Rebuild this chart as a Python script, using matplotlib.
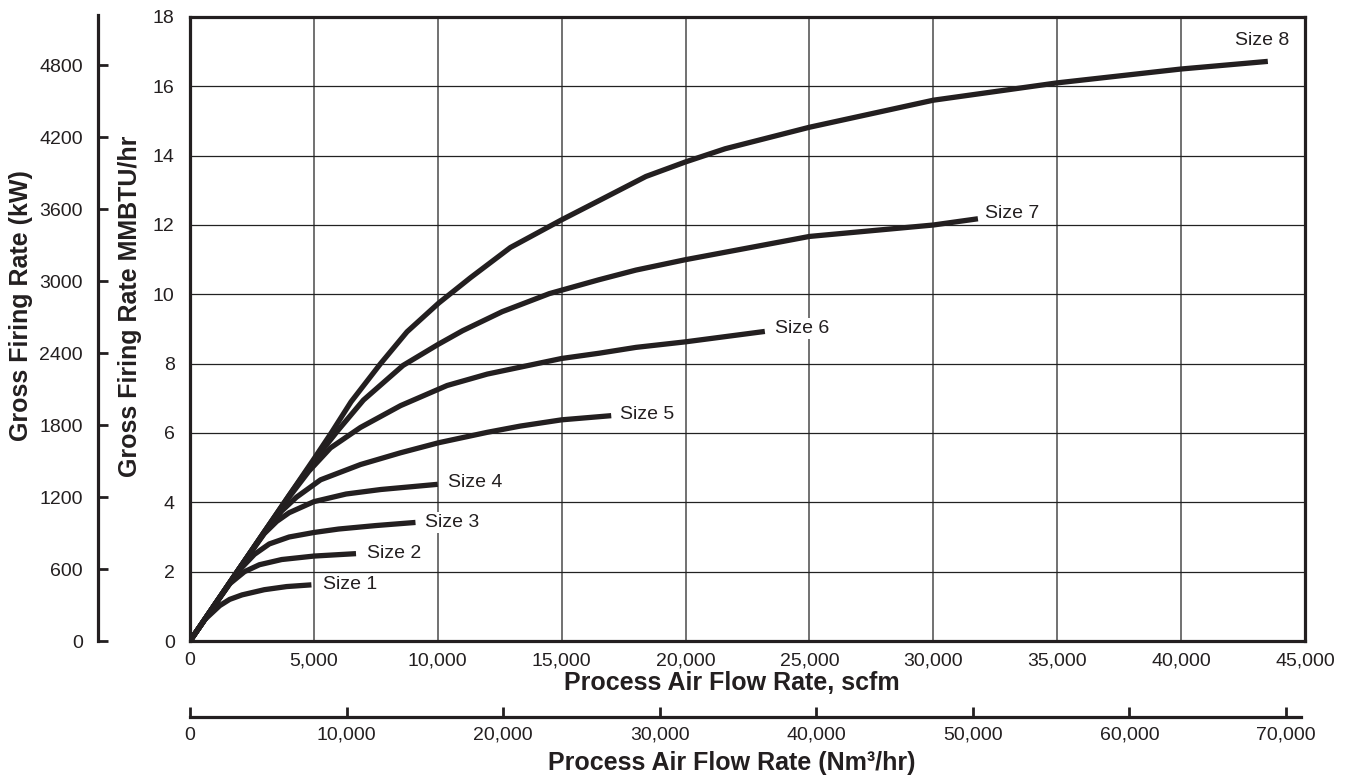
import numpy as np
import matplotlib.pyplot as plt
from matplotlib.ticker import FuncFormatter

plt.rcParams['font.family'] = ['Liberation Sans', 'DejaVu Sans']

# Firing-rate curves, x = process air flow (scfm), y = MMBTU/hr
size1_x = [0, 600, 1200, 1600, 2100, 3000, 3900, 4900]
size1_y = [0, 0.62, 1.02, 1.2, 1.33, 1.48, 1.57, 1.62]

size2_x = [0, 800, 1600, 2200, 2800, 3700, 5000, 6700]
size2_y = [0, 0.83, 1.65, 2.0, 2.2, 2.35, 2.45, 2.52]

size3_x = [0, 1000, 2000, 2600, 3200, 4000, 5000, 6000, 7500, 9100]
size3_y = [0, 1.05, 2.05, 2.5, 2.8, 3.0, 3.13, 3.23, 3.33, 3.42]

size4_x = [0, 1000, 2000, 3000, 3500, 4000, 5000, 6300, 7700, 10000]
size4_y = [0, 1.05, 2.1, 3.1, 3.45, 3.7, 4.02, 4.24, 4.37, 4.52]

size5_x = [0, 1000, 2000, 3000, 3700, 4300, 5270, 6880, 8500, 10040, 12000, 13333, 15000, 17000]
size5_y = [0, 1.05, 2.1, 3.12, 3.75, 4.15, 4.65, 5.09, 5.43, 5.72, 6.02, 6.2, 6.38, 6.5]

size6_x = [0, 1000, 2000, 3000, 4000, 4800, 5670, 6880, 8500, 10376, 12000, 13333, 15000, 16500, 18000, 20000, 23200]
size6_y = [0, 1.05, 2.1, 3.15, 4.15, 4.9, 5.57, 6.16, 6.79, 7.37, 7.7, 7.9, 8.15, 8.3, 8.47, 8.63, 8.93]

size7_x = [0, 1000, 2000, 3000, 4000, 5000, 6000, 7000, 8600, 10000, 11000, 12600, 14500, 16500, 18000, 20000, 25000, 30000, 31800]
size7_y = [0, 1.05, 2.1, 3.15, 4.2, 5.2, 6.1, 6.95, 7.95, 8.55, 8.95, 9.5, 10.02, 10.42, 10.7, 11.0, 11.67, 12.0, 12.18]

size8_x = [0, 1000, 2000, 3000, 4000, 5000, 5700, 6500, 7690, 8760, 10040, 11320, 12930, 15000, 16500,
           18400, 20000, 21600, 25000, 30000, 35000, 40000, 43500]
size8_y = [0, 1.05, 2.1, 3.15, 4.2, 5.25, 6.0, 6.9, 8.0, 8.92, 9.75, 10.48, 11.35, 12.15, 12.7,
           13.4, 13.82, 14.2, 14.82, 15.6, 16.1, 16.5, 16.72]

curves = [
    ('Size 1', size1_x, size1_y, (8, 0)),
    ('Size 2', size2_x, size2_y, (8, 0)),
    ('Size 3', size3_x, size3_y, (7, 0)),
    ('Size 4', size4_x, size4_y, (7, 1)),
    ('Size 5', size5_x, size5_y, (6, 1)),
    ('Size 6', size6_x, size6_y, (7, 2)),
    ('Size 7', size7_x, size7_y, (5, 4)),
]

W, H = 1345, 780
fig = plt.figure(figsize=(W / 100, H / 100), dpi=100)
ink = '#231f20'

# main chart (scfm vs MMBTU/hr)
ax = fig.add_axes([190 / W, 1 - 641 / H, (1305 - 190) / W, (641 - 17) / H])
ax.set_xlim(0, 45000)
ax.set_ylim(0, 18)
ax.set_xticks(np.arange(0, 45001, 5000))
ax.set_yticks(np.arange(0, 19, 2))
ax.xaxis.set_major_formatter(FuncFormatter(lambda v, p: f'{int(v):,}'))
ax.tick_params(length=0, labelsize=14, colors=ink)
ax.tick_params(axis='x', pad=8)
ax.tick_params(axis='y', pad=11)
ax.grid(axis='x', color='#666666', lw=1.3)
ax.grid(axis='y', color='#222222', lw=0.9)
for s in ax.spines.values():
    s.set_linewidth(2.3)
    s.set_color(ink)

for name, xs, ys, off in curves:
    ax.plot(xs, ys, color=ink, lw=3.8, solid_capstyle='butt', zorder=3)
    ax.annotate(name, (xs[-1], ys[-1]), xytext=off, textcoords='offset points',
                ha='left', va='center', fontsize=14, color=ink, zorder=4,
                bbox=dict(boxstyle='square,pad=0.1', fc='white', ec='none'))

ax.plot(size8_x, size8_y, color=ink, lw=3.8, solid_capstyle='butt', zorder=3)
ax.annotate('Size 8', (size8_x[-1], size8_y[-1]), xytext=(-4, 15), textcoords='offset points',
            ha='center', va='center', fontsize=14, color=ink, zorder=4)

# kW scale on the far left
axk = fig.add_axes([98 / W, 1 - 641 / H, 0.0005, (641 - 15) / H])
axk.set_ylim(0, 5200 * 626 / 624)
axk.set_yticks(np.arange(0, 4801, 600))
axk.set_xticks([])
axk.patch.set_visible(False)
for k in ['top', 'right', 'bottom']:
    axk.spines[k].set_visible(False)
axk.spines['left'].set_linewidth(2.3)
axk.spines['left'].set_color(ink)
axk.tick_params(axis='y', direction='in', length=7, width=2, labelsize=14, pad=11, colors=ink)

# Nm3/hr scale underneath
axn = fig.add_axes([190 / W, 1 - 717 / H, (1301 - 190) / W, 0.0005])
axn.set_xlim(0, 70958)
axn.set_xticks(np.arange(0, 70001, 10000))
axn.xaxis.set_major_formatter(FuncFormatter(lambda v, p: f'{int(v):,}'))
axn.set_yticks([])
axn.patch.set_visible(False)
for k in ['top', 'right', 'left']:
    axn.spines[k].set_visible(False)
axn.spines['bottom'].set_linewidth(2.3)
axn.spines['bottom'].set_color(ink)
axn.tick_params(axis='x', direction='in', length=7, width=2, labelsize=14, pad=7, colors=ink)

lab = dict(fontsize=18, fontweight='bold', color=ink)
fig.text(732 / W, 1 - 690 / H, 'Process Air Flow Rate, scfm', ha='center', va='baseline', **lab)
fig.text(732 / W, 1 - 770 / H, 'Process Air Flow Rate (Nm³/hr)', ha='center', va='baseline', **lab)
fig.text(21 / W, 1 - 306 / H, 'Gross Firing Rate (kW)', ha='center', va='center', rotation=90, **lab)
fig.text(130 / W, 1 - 306 / H, 'Gross Firing Rate MMBTU/hr', ha='center', va='center', rotation=90, **lab)

fig.savefig('out.png', dpi=100)
